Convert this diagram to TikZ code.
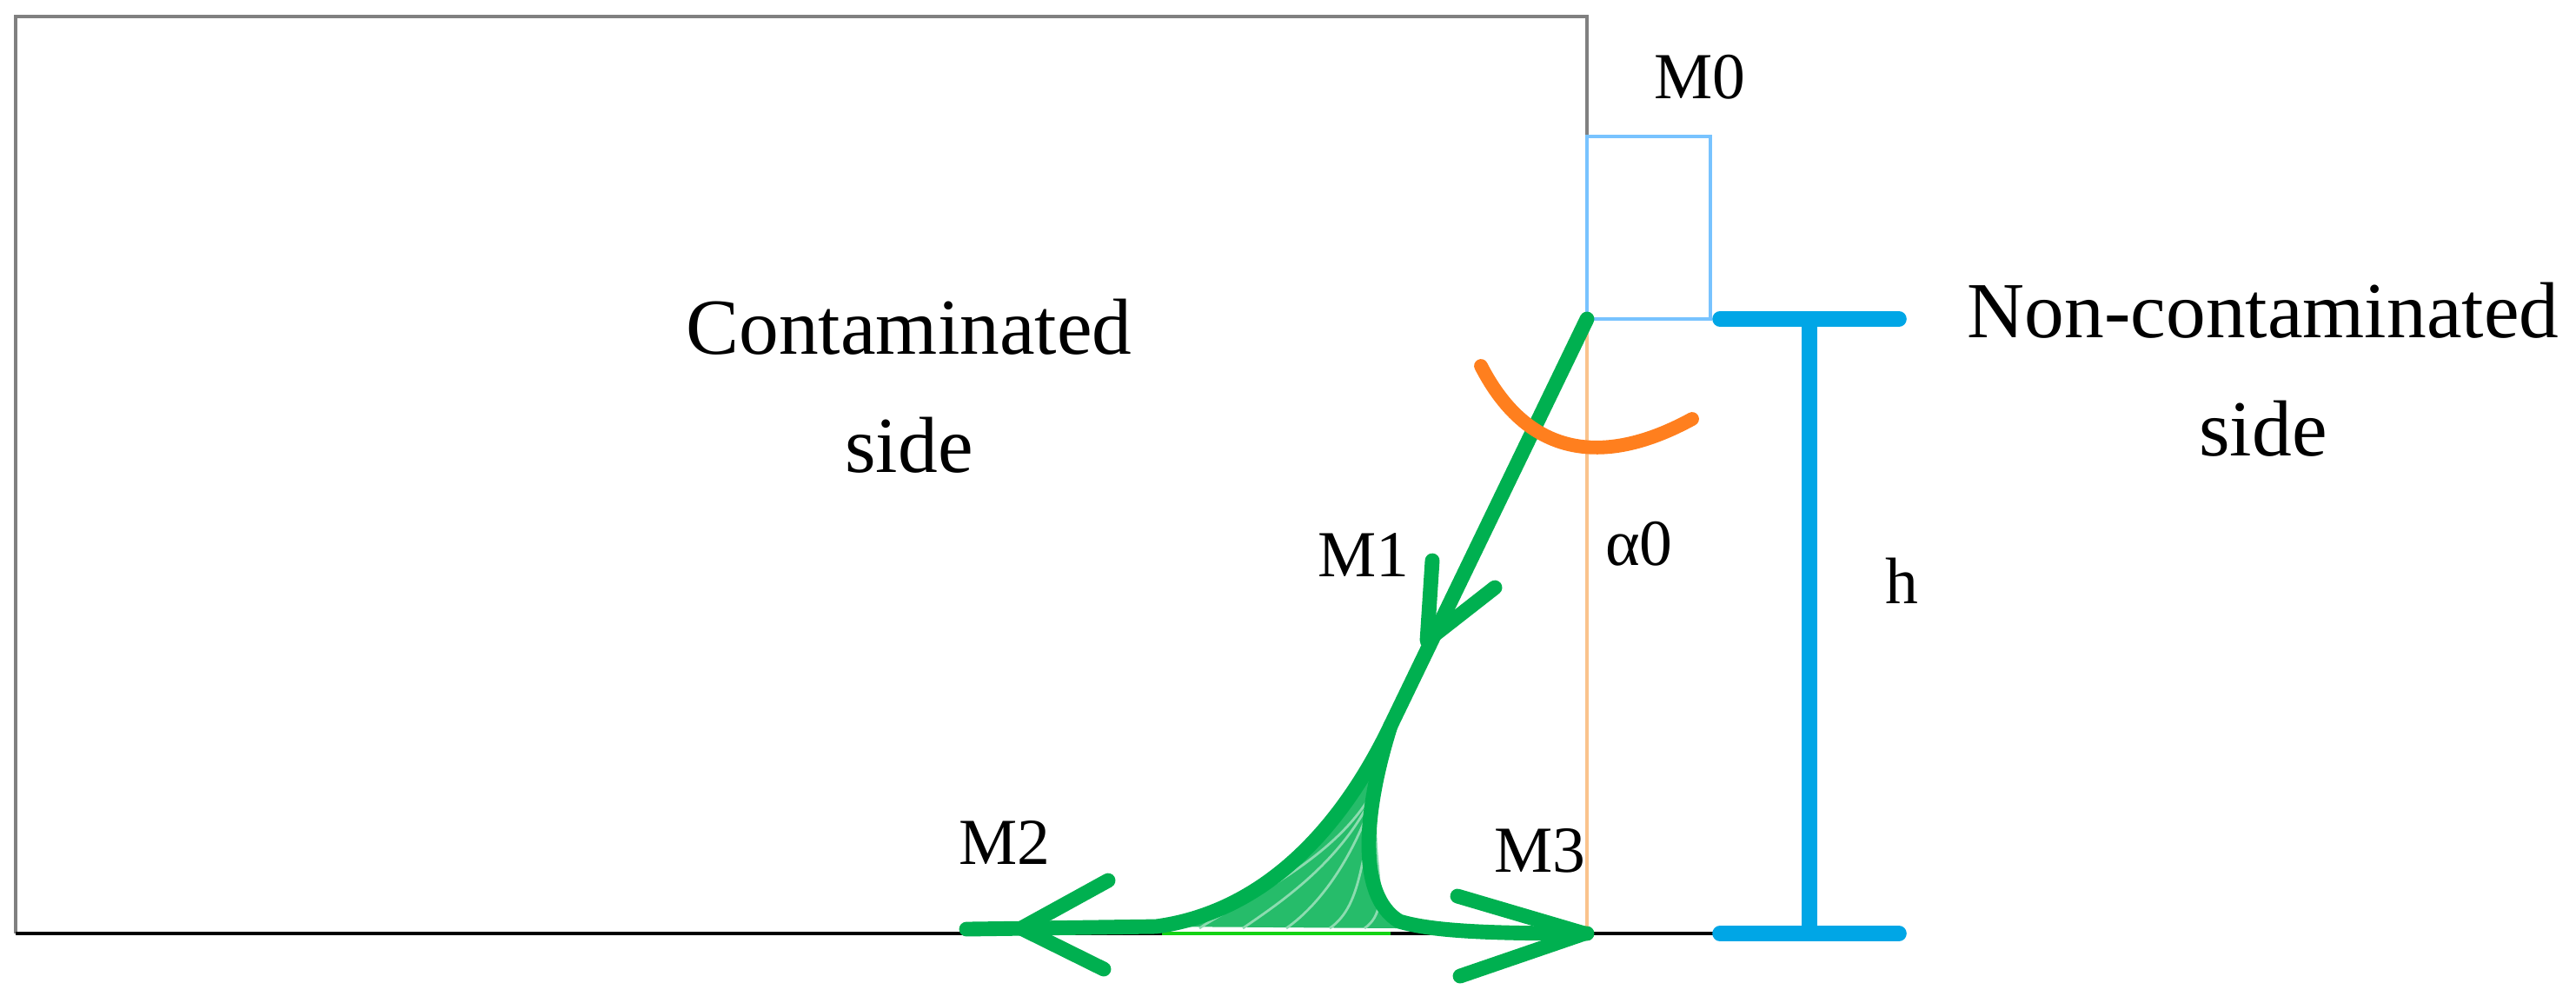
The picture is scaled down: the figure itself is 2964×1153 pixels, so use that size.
\documentclass[tikz,border=0pt]{standalone}
\usepackage{fontspec}
\setmainfont{Liberation Serif}
\usetikzlibrary{calc}

\definecolor{framegray}{RGB}{128,128,128}
\definecolor{sqblue}{RGB}{120,195,255}
\definecolor{hblue}{RGB}{0,166,230}
\definecolor{pathgreen}{RGB}{0,176,80}
\definecolor{brightgreen}{RGB}{20,210,20}
\definecolor{arcorange}{RGB}{255,127,30}
\definecolor{lineorange}{RGB}{250,195,140}

\begin{document}
\begin{tikzpicture}[x=0.01cm,y=-0.01cm,
	sidetext/.style={align=center,inner sep=0pt,font=\fontsize{26}{38.7}\selectfont},
	mlabel/.style={anchor=base,inner sep=0pt,font=\fontsize{21.5}{26}\selectfont},
	trace/.style={draw=pathgreen,line width=4.8pt,line cap=round,line join=round},
	hbar/.style={draw=hblue,line width=5pt,line cap=round}]
	
	\useasboundingbox (0,0) rectangle (2964,1153);
	
	\coordinate (tl) at (18,19);
	\coordinate (bl) at (18,1074);
	\coordinate (tr) at (1826,19);
	\coordinate (sq) at (1826,157);
	\coordinate (src) at (1826,367);
	\coordinate (foot) at (1826,1074);
	\coordinate (bend) at (1600,835);
	\coordinate (m2end) at (1112,1069);
	\coordinate (htop) at (2082,367);
	\coordinate (hbot) at (2082,1074);
	\coordinate (dh) at (103,0);
	
	% The wall (frame)
	\draw [framegray,line width=1.2pt] (bl) -- (tl) -- (tr) -- (sq);
	
	% The floor
	\draw [black,line width=1.4pt] (bl) -- ($(hbot)-(dh)$);
	
	% The vertical reference
	\draw [lineorange,line width=0.9pt] (src) -- (foot);
	
	% The small square
	\draw [sqblue,line width=1.1pt] (sq) rectangle (1968,367);
	
	% The height bar
	\draw [hbar] ($(htop)-(dh)$) -- ($(htop)+(dh)$);
	\draw [hbar] ($(hbot)-(dh)$) -- ($(hbot)+(dh)$);
	\draw [hbar] (htop) -- (hbot);
	
	% The fan at the bottom
	\fill [pathgreen!85] (bend) .. controls (1540,960) and (1450,1050) .. (1330,1066)
		-- (1610,1068) .. controls (1560,1030) and (1570,930) .. (bend);
	\foreach \x in {1380,1430,1480,1530,1570}
		\draw [pathgreen!45,line width=0.8pt] (1592,880) .. controls (1565,980) and ({\x+40},1040) .. (\x,1068);
	\draw [brightgreen,line width=1.4pt] (1337,1074) -- (1600,1074);
	
	% The green trace
	\draw [trace] (src) -- (bend) .. controls (1540,960) and (1450,1050) .. (1330,1066) -- (m2end);
	\draw [trace] (bend) .. controls (1570,930) and (1560,1030) .. (1610,1060)
		.. controls (1650,1072) and (1720,1074) .. (foot);
	
	% The arrow heads
	\draw [trace] (1648,645) -- (1642,737) -- (1720,676);
	\draw [trace] (1275,1013) -- (1175,1068) -- (1270,1115);
	\draw [trace] (1677,1031) -- (1823,1074) -- (1680,1123);
	
	% The angle
	\draw [arcorange,line width=4.5pt,line cap=round] (1704,421) .. controls (1760,530) and (1850,535) .. (1947,482);
	
	% Texts
	\node (cont) [sidetext] at (1046,444) {Contaminated\\side};
	\node (noncont) [sidetext] at (2604,425) {Non-contaminated\\side};
	
	% Labels
	\node (m0) [mlabel] at (1956,113) {M0};
	\node (m1) [mlabel] at (1569,663) {M1};
	\node (alpha) [mlabel] at (1886,650) {α0};
	\node (m2) [mlabel] at (1156,994) {M2};
	\node (m3) [mlabel] at (1772,1003) {M3};
	\node (h) [mlabel] at (2188,694) {h};
	
\end{tikzpicture}
\end{document}
